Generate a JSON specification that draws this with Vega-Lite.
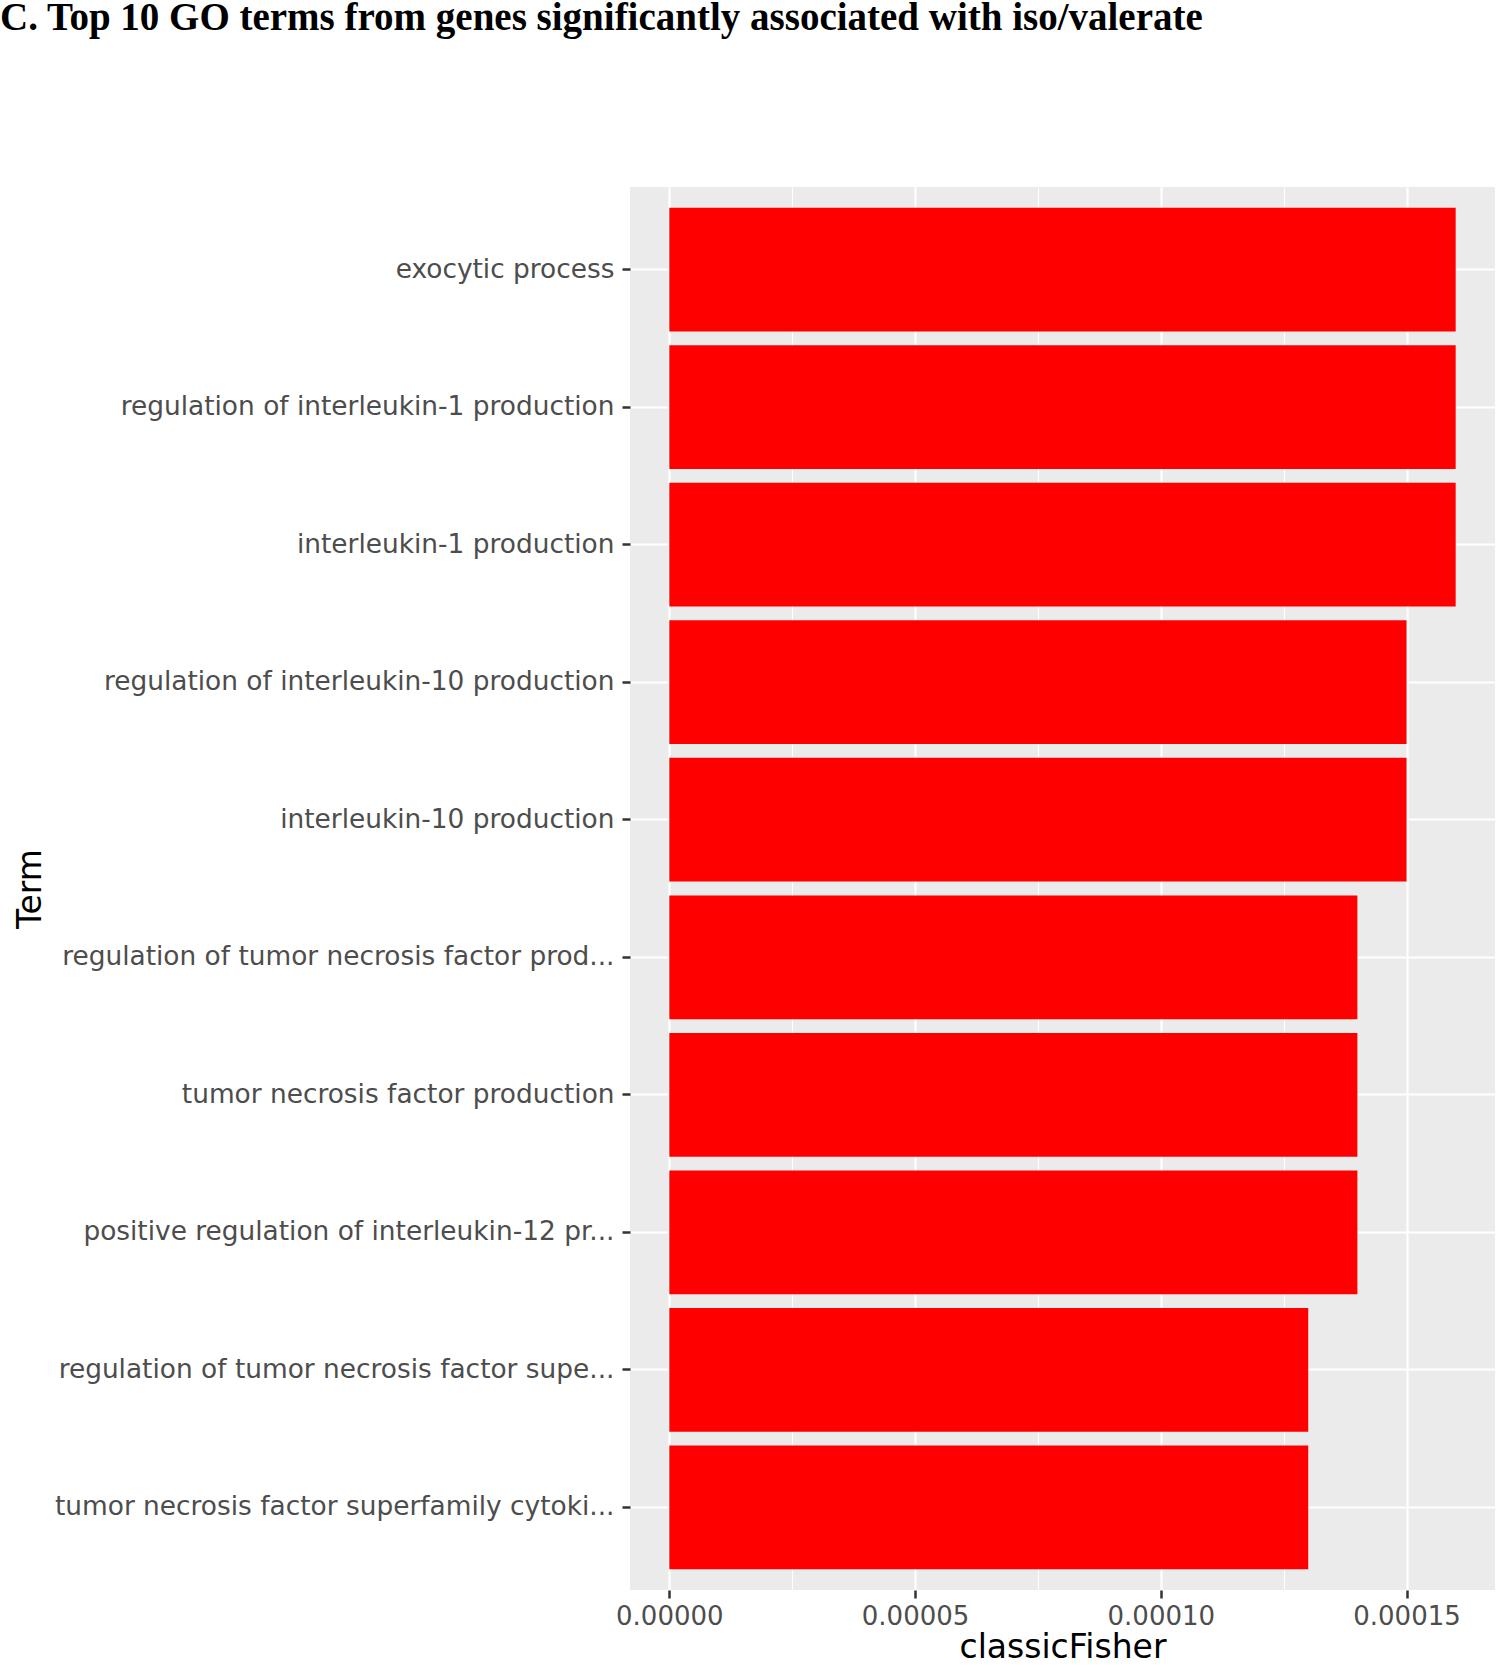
{
  "$schema": "https://vega.github.io/schema/vega-lite/v6.json",
  "autosize": "none",
  "width": 865,
  "height": 1403,
  "padding": {"left": 630, "top": 187, "right": 5, "bottom": 75},
  "background": "white",
  "view": {"fill": "#EBEBEB", "stroke": null},
  "title": {
    "text": "C. Top 10 GO terms from genes significantly associated with iso/valerate",
    "anchor": "start",
    "frame": "group",
    "dx": -630,
    "offset": 118,
    "baseline": "alphabetic",
    "font": "Liberation Serif",
    "fontWeight": "bold",
    "fontSize": 39,
    "color": "black"
  },
  "data": {
    "values": [
      {"Term": "exocytic process", "classicFisher": 0.00016},
      {"Term": "regulation of interleukin-1 production", "classicFisher": 0.00016},
      {"Term": "interleukin-1 production", "classicFisher": 0.00016},
      {"Term": "regulation of interleukin-10 production", "classicFisher": 0.00015},
      {"Term": "interleukin-10 production", "classicFisher": 0.00015},
      {"Term": "regulation of tumor necrosis factor prod...", "classicFisher": 0.00014},
      {"Term": "tumor necrosis factor production", "classicFisher": 0.00014},
      {"Term": "positive regulation of interleukin-12 pr...", "classicFisher": 0.00014},
      {"Term": "regulation of tumor necrosis factor supe...", "classicFisher": 0.00013},
      {"Term": "tumor necrosis factor superfamily cytoki...", "classicFisher": 0.00013}
    ]
  },
  "mark": {"type": "bar", "color": "#FF0000"},
  "encoding": {
    "y": {
      "field": "Term",
      "type": "nominal",
      "sort": null,
      "scale": {"paddingInner": 0.1, "paddingOuter": 0.15},
      "axis": {
        "title": "Term",
        "titleFont": "DejaVu Sans",
        "titleFontSize": 33,
        "titleFontWeight": "normal",
        "titleColor": "black",
        "titleAngle": -90,
        "titleX": -590,
        "titleY": 701.5,
        "titleAlign": "center",
        "titleBaseline": "alphabetic",
        "labelFont": "DejaVu Sans",
        "labelFontSize": 26.4,
        "labelColor": "#4D4D4D",
        "labelPadding": 8,
        "labelLimit": 1000,
        "tickSize": 8,
        "tickWidth": 2.5,
        "tickColor": "#333333",
        "domain": false,
        "grid": true,
        "gridColor": "white",
        "gridWidth": 2.2
      }
    },
    "x": {
      "field": "classicFisher",
      "type": "quantitative",
      "scale": {"domain": [-0.000008, 0.000168], "nice": false, "zero": false},
      "axis": {
        "title": "classicFisher",
        "titleFont": "DejaVu Sans",
        "titleFontSize": 33,
        "titleFontWeight": "normal",
        "titleColor": "black",
        "titleY": 67,
        "titleBaseline": "alphabetic",
        "values": [0, 0.000025, 0.00005, 0.000075, 0.0001, 0.000125, 0.00015],
        "labelExpr": "round(datum.value*40000) % 2 === 0 ? format(datum.value, '.5f') : ''",
        "labelFont": "DejaVu Sans",
        "labelFontSize": 26,
        "labelColor": "#4D4D4D",
        "labelPadding": 5,
        "labelFlush": false,
        "labelOverlap": false,
        "tickSize": 8,
        "tickWidth": 2.5,
        "tickColor": "#333333",
        "tickOpacity": {"condition": {"test": "round(datum.value*40000) % 2 === 0", "value": 1}, "value": 0},
        "domain": false,
        "grid": true,
        "gridColor": "white",
        "gridWidth": {"condition": {"test": "round(datum.value*40000) % 2 === 0", "value": 2.2}, "value": 1.1}
      }
    }
  }
}
